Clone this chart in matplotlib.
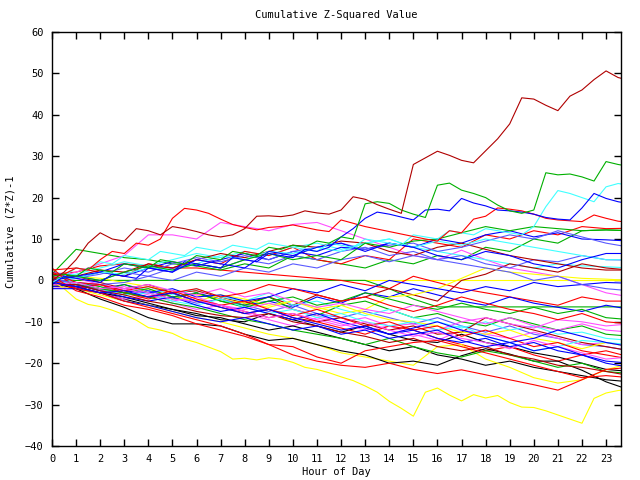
import numpy as np
import matplotlib
matplotlib.use("Agg")
import matplotlib.pyplot as plt

# ── Data: cumulative (Z*Z)-1 per series ─────────────────────────────────────
# half-hour grid (49 values, 0..24 h) for the prominent lines
HALF_HOURS = np.arange(49) * 0.5
# hourly grid (25 values, 0..24 h) for the rest
HOURS = np.arange(25)

top_darkred = [0, 2, 5, 9, 11.5, 10, 9.5, 12.5, 12, 11,
               13, 12.5, 11.8, 11, 10.5, 11, 12.5, 15.5, 15.6, 15.4,
               15.8, 16.8, 16.3, 16, 17, 20.2, 19.6, 18.3, 17.2, 16.2,
               28, 29.6, 31.2, 30.2, 29, 28.4, 31.3, 34.2, 37.8, 44.1,
               43.8, 42.3, 41, 44.5, 46, 48.5, 50.6, 49, 48.3]
top_green = [1, 1.5, 1, 3, 2.5, 2, 4, 3.5, 3, 5,
             4.5, 4, 6, 5.5, 5, 7, 6.5, 6, 8, 7.5,
             8.5, 8, 9.5, 9, 10.5, 10, 18.5, 19, 18.6, 17,
             16, 15.2, 23, 23.5, 21.8, 21, 20, 18.2, 16.8, 16.2,
             17, 26, 25.5, 25.7, 25, 24, 28.7, 28, 27.5]
top_cyan = [-0.5, 1, 3, 2.5, 4.5, 4, 6, 5.5, 5, 7,
            6.5, 6, 8, 7.5, 7, 8.5, 8, 7.5, 9, 8.5,
            8, 7.5, 7, 9, 8.5, 8, 10, 9.5, 9, 8.5,
            11, 10.5, 10, 12, 11.5, 11, 12.5, 12, 11.5, 11,
            13, 17.8, 21.7, 21, 20, 19, 22.6, 23.4, 23]
top_blue = [-1, 1, 0.5, 0, -0.5, 1.5, 1, 0.5, 3, 2.5,
            2, 4.5, 4, 3.5, 3, 5.5, 5, 4.5, 6.5, 6,
            5.5, 7.5, 7, 8, 10.5, 12.5, 15, 16.5, 16, 15.3,
            14.6, 17, 17.2, 16.8, 19.8, 18.7, 18, 17, 16.8, 16.5,
            16, 15.2, 14.8, 14.6, 17.5, 21, 19.8, 19, 18.5]
top_red = [1, 1.5, 3, 2.5, 5, 7, 6.5, 9, 8.5, 10,
           15, 17.4, 17, 16.2, 14.8, 13.5, 12.8, 12.2, 12.8, 13,
           13.4, 12.8, 12.2, 11.8, 14.6, 13.8, 13, 12.4, 11.8, 11.2,
           10.6, 10, 9.5, 12, 11.5, 14.8, 15.5, 17.5, 17.2, 16.8,
           16, 15, 14.6, 14.4, 14.2, 15.8, 15, 14.3, 14]
low_yellow = [0, -2, -4.5, -5.8, -6.3, -7.2, -8.3, -9.6, -11.4, -12,
              -12.8, -14.2, -15, -16.1, -17.2, -19, -18.8, -19.2, -18.7, -19,
              -19.8, -21, -21.5, -22.3, -23.3, -24.2, -25.5, -27, -29.2, -30.9,
              -32.8, -27, -26, -27.7, -29.1, -27.6, -28.4, -27.8, -29.5, -30.6,
              -30.7, -31.5, -32.5, -33.5, -34.5, -28.5, -27.2, -26.6, -26.3]

yellow_2 = [-1, -2, -3.5, -5, -6, -7.5, -9, -10, -11.5, -13, -14, -15.5, -17.5,
            -18.5, -19.5, -20.5, -16, -15.5, -19, -21, -23.5, -24.8, -24, -21.6, -20]
yellow_3 = [0.5, 1, 0.5, -0.5, -1.5, -2.5, -3.5, -4.5, -5.5, -6.5, -5, -6.5, -8,
            -7, -4, -3.5, -2, 0.5, 3, 2, 1.5, 1, 0.5, 0.3, 0]
yellow_flat = [0] * 25
green_flat = [0, 0, 0, 0, 0, 0, 0, 0, 0, 0, 0, 0, 0,
              0, -2, -4.5, -6.4, -6.4, -6.4, -6.4, -6.4, -6.4, -6.4, -6.4, -6.4]
black_1 = [-0.5, -2, -4.5, -6.5, -9, -10.5, -10.5, -11, -13, -14.5, -14, -15.5, -17,
           -18, -20, -19.5, -20.5, -18.2, -16.5, -17.8, -19.5, -19.5, -21.7, -24.5, -26.5]
black_2 = [-1.5, -1.5, -3, -4.5, -6, -7, -8, -9.5, -10, -8, -9.5, -11, -12.5,
           -11, -13, -14.5, -15, -13, -15, -16, -17.5, -18.5, -20, -21.5, -22]
red_low1 = [1, -2.5, -4, -6, -7, -8.5, -10.5, -12, -13.5, -15.5, -18, -19.5, -20.5,
            -21, -20, -21.5, -22.5, -21.6, -22.8, -24, -25.2, -26.5, -24, -21.5, -21]
red_low2 = [0, -2, -3, -5, -6.5, -8, -9.5, -11, -13, -15.5, -16, -18.5, -20,
            -17, -16, -15, -14.5, -16, -17.5, -19, -20.5, -22, -23.5, -23, -23.5]
magenta_1 = [0.5, 2, 4, 6, 11, 11, 10, 14, 13, 12, 13.5, 14, 12,
             10, 8, 6, 5, 7.3, 5, 3, 2, 1, -1, -3, -4]
blue_1 = [-0.5, -1, -2, -1, -2.5, -4, -3, -4.5, -6, -5, -6.5, -4, -5.5,
          -3, -4, -2, -3.5, -5, -6, -4, -5.5, -6.5, -7.5, -6, -7]
red_1 = [2.5, 3, 2, 1, 4, 3, 5, 4, 7, 6, 8, 5, 4,
         6, 5, 10, 9, 8, 11, 10, 12, 11, 13, 12.5, 12.6]
green_1 = [-1, -1, -2.5, -1, -3, -4.5, -3, -5, -6, -4, -7, -8.5, -6,
           -5, -7, -9, -8, -10, -11, -9, -10.5, -12, -11, -13, -13.5]
magenta_2 = [-2, -1.5, -3, -4.5, -4, -5.5, -7, -6, -8, -9.5, -11, -9, -10.5,
             -12, -11, -13, -14.5, -12, -13, -14, -12.5, -14, -15.5, -15, -16]
cyan_1 = [1.5, -0.5, -2, -3, -1.5, -3.5, -2, -4, -5, -3, -6, -5, -7,
          -8.5, -7, -9, -10, -11.5, -10, -12, -11, -13, -12.5, -14, -14.5]
darkred_1 = [-1, 1, -0.5, -2, -1, -3, -2.5, -4, -5.5, -4, -6, -3.5, -5,
             -4, -2, -3.5, -5, 0, 1.5, 4, 3, 2, 4, 3, 2.5]
lavender_1 = [-1, -1, -2, -3.5, -2.5, -4, -5.5, -4.5, -6, -7.5, -6, -8, -9,
              -7.5, -9, -10.5, -9, -11, -12.5, -11, -13, -14, -15.5, -16, -17]
blue_2 = [0.5, 0.5, 2, 1, 3, 4.5, 3.5, 5, 6.5, 5, 7, 6, 8,
          7.5, 9, 8, 10, 9, 11, 12, 10.5, 11.5, 10, 9.8, 9.5]
red_2 = [-1.5, -1, -2, -3, -4.5, -3, -5, -6, -7.5, -9, -8, -10, -11.5,
         -13, -11, -12, -14, -15.5, -17, -16, -18, -19.5, -18, -17, -18.5]
green_2 = [1.5, 7.5, 6.5, 5.5, 5, 4, 3.5, 2.5, 4, 3, 6, 5, 4,
           3, 5, 4, 6, 5, 8, 7, 10, 9, 12, 12.2, 12]
blue_3 = [-1, -1.5, -1, -2.5, -3, -2, -4, -3.5, -5, -4, -2, -3, -1,
          -2.5, 0, -1, -2, -3, -1.5, -2.5, -0.5, -1.5, -1, -0.5, -0.7]
magenta_3 = [0, -1, -2.5, -2, -3.5, -5, -4, -6, -7, -5.5, -7, -8.5, -10,
             -9, -11, -10.5, -12, -10, -9, -10.5, -11.5, -9.5, -10, -11, -10.5]
cyan_2 = [1, 1.5, 3, 4.5, 3.5, 5, 6.5, 5.5, 7, 6, 8, 9, 7.5,
          9, 10, 8, 7, 6, 5, 4, 3, 4, 3.5, 3.3, 3]
yellow_4 = [-0.5, -1, -2, -3, -2, -4, -5, -3.5, -4.5, -6, -5, -7, -6,
            -8, -9.5, -10, -11, -12.5, -13, -12, -14, -15, -16.5, -15, -16]
black_3 = [0, -1.5, -3, -4, -5.5, -7, -8.5, -9, -10.5, -12, -11, -12.5, -14,
           -15.5, -17, -16, -18, -19, -20.5, -19.5, -21, -22, -23, -24, -24.5]
lavender_2 = [2, 1, 0, 2, 1, 3, 4, 3, 5, 4, 6, 5, 7,
              8, 6, 7, 5, 6, 4, 3, 5, 4.5, 6, 5, 4.9]
red_3 = [3, -2, -1, -3, -4, -2.5, -4.5, -6, -5, -7, -8.5, -7, -9,
         -11, -10, -12, -11, -13.5, -12, -14, -16, -15, -17, -18, -19]
green_3 = [-0.5, -0.5, -1.5, -3, -2, -4, -3, -5, -6.5, -5, -4, -6, -5,
           -3, -4.5, -6, -7, -5.5, -7, -8, -6.5, -8, -7, -9, -9.5]
blue_4 = [-1.5, -1, -2.5, -4, -5, -4, -6, -7.5, -6.5, -8, -9.5, -8, -10,
          -11.5, -13, -12, -14, -15, -14, -16, -15, -17, -18, -19.5, -20]
magenta_4 = [1, 0.5, -1, -2, -1, -2.5, -3.5, -2, -4, -3, -5, -6.5, -5.5,
             -7, -8, -6, -7.5, -9, -10.5, -9, -11, -12, -10.5, -12, -12.5]
cyan_3 = [0, -1, -2, -3.5, -3, -5, -6, -4.5, -6.5, -8, -7, -9, -8,
          -10, -11, -10, -12, -11, -13.5, -15, -17, -16, -14.5, -15, -15.5]
darkred_2 = [0.5, -1, -2, -3, -4, -3, -5, -6.5, -8, -7, -9, -10, -9,
             -10.5, -12, -11, -13, -12.5, -9, -10.5, -12, -13.5, -15, -16, -17]
lavender_3 = [-0.5, 0.5, 1.5, 3, 2, 4, 5.5, 4.5, 6, 5, 7, 8, 9,
              7.5, 8.5, 9, 7, 8, 9.5, 11, 10, 12, 10.5, 9, 8]
blue_5 = [0, 1, 2, 4, 3, 2, 5, 4, 3, 7, 6, 8, 9,
          7, 9, 8, 6, 5, 7, 6, 4, 3, 5, 6.5, 6.5]
red_4 = [2, -0.5, -1, -2.5, -1.5, -3, -2, -4, -3, -1, -2, -3.5, -5,
         -4, -6, -7.5, -6, -4, -5.5, -7, -8, -9.5, -8, -10, -10.5]
green_4 = [-1, -1, -2, -3, -4, -5.5, -6.5, -8, -9.5, -10.5, -12, -13, -14,
           -15.5, -14, -16, -17.5, -18.5, -17, -18, -19.5, -21, -20, -22, -22.5]
cyan_4 = [0.5, 0.5, 2, 1.5, 3, 2.5, 4, 6, 5, 7, 6.5, 8, 7,
          9, 10, 8, 9.5, 8.5, 10, 9, 8, 7, 6, 5, 5]
magenta_5 = [-1, -0.5, -2, -1.5, -3, -4.5, -5, -6, -7.5, -9, -8, -9.5, -11,
             -10, -12, -13.5, -12.5, -14, -15, -16.5, -14.5, -16, -17.5, -19, -18.5]
blue_6 = [-2, -2, -3, -5, -6, -7.5, -9, -10, -9, -10.5, -12, -11, -13,
          -12, -14, -13, -12, -14.5, -16, -15, -17, -16, -18, -20, -21]
darkred_3 = [1.5, 1, 2.5, 2, 4, 3, 5, 6.5, 5.5, 7, 8.5, 8, 9.5,
             9, 7, 6, 8, 9, 7.5, 6, 5, 4, 3, 2.5, 2.5]
red_5 = [1.5, 2, 3.5, 4, 3.5, 3, 3, 2.5, 2, 1.5, 1, 0.5, 0,
         -1, -2, 1, -0.5, -2, -3, -4, -5, -6, -4, -5, -5]
blue_7 = [-0.5, -1.5, -3, -2.5, -4, -3, -5, -6.5, -8, -7, -9, -10.5, -12,
          -11, -13, -11.5, -10, -12, -13.5, -15, -14, -12, -13.5, -15, -16]
lavender_4 = [0, -0.5, -1, -0.5, 1, 0, 2, 1, 3, 2, 4, 3, 5,
              6, 4.5, 6, 5, 4, 3, 2, 0, 1, -1, -2, -2.5]
green_5 = [0.5, 1, 0, 2, 3.5, 2.5, 4, 3, 5, 6.5, 5, 6, 5,
           9, 8, 9.5, 10, 11.5, 13, 12, 13, 12.5, 12, 12.2, 12]
darkred_4 = [-1, -1, -2.5, -3.5, -5, -6, -7.5, -8.5, -9, -8, -10, -11, -12.5,
             -13.5, -15, -14, -16, -17, -16, -18, -19, -20.5, -21, -22, -23]

# ── Styling (old gnuplot png palette) ───────────────────────────────────────
RED, GREEN, BLUE = "#ff0000", "#00b000", "#0000ff"
MAGENTA, CYAN, DARKRED = "#ff50ff", "#40ffff", "#b00000"
YELLOW, BLACK, LAVENDER = "#ffff00", "#000000", "#5a5aff"

SERIES = [
    (yellow_flat, YELLOW), (green_flat, GREEN),
    (red_5, RED), (green_2, GREEN), (blue_1, BLUE), (magenta_1, MAGENTA),
    (cyan_2, CYAN), (darkred_1, DARKRED), (yellow_3, YELLOW), (black_2, BLACK),
    (lavender_1, LAVENDER), (red_1, RED), (green_1, GREEN), (blue_2, BLUE),
    (magenta_2, MAGENTA), (cyan_1, CYAN), (darkred_2, DARKRED), (yellow_4, YELLOW),
    (black_3, BLACK), (lavender_2, LAVENDER), (red_2, RED), (green_3, GREEN),
    (blue_3, BLUE), (magenta_3, MAGENTA), (cyan_3, CYAN), (darkred_3, DARKRED),
    (yellow_2, YELLOW), (black_1, BLACK), (lavender_3, LAVENDER), (red_3, RED),
    (green_4, GREEN), (blue_4, BLUE), (magenta_4, MAGENTA), (cyan_4, CYAN),
    (darkred_4, DARKRED), (low_yellow, YELLOW), (lavender_4, LAVENDER),
    (red_4, RED), (green_5, GREEN), (blue_5, BLUE), (magenta_5, MAGENTA),
    (red_low1, RED), (blue_6, BLUE), (red_low2, RED), (blue_7, BLUE),
    (top_cyan, CYAN), (top_red, RED), (top_blue, BLUE), (top_green, GREEN),
    (top_darkred, DARKRED),
]

FONT = "DejaVu Sans Mono"
FS = 7.5

fig = plt.figure(figsize=(6.4, 4.8), dpi=100)
ax = fig.add_axes([52 / 640, 1 - 446 / 480, 569 / 640, 414 / 480])

for values, color in SERIES:
    xs = HALF_HOURS if len(values) == len(HALF_HOURS) else HOURS
    ax.plot(xs, values, color=color, linewidth=0.8, antialiased=True)

ax.set_xlim(0, 23.62)
ax.set_ylim(-40, 60)
ax.set_xticks(range(24))
ax.set_yticks(range(-40, 61, 10))
ax.tick_params(direction="in", top=True, right=True, length=5, width=1,
               labelsize=FS, pad=6)
for lab in ax.get_xticklabels() + ax.get_yticklabels():
    lab.set_family(FONT)
for sp in ax.spines.values():
    sp.set_linewidth(1)

fig.text(336 / 640, 1 - 15 / 480, "Cumulative Z-Squared Value",
         ha="center", va="center", family=FONT, fontsize=FS)
fig.text(336 / 640, 1 - 472 / 480, "Hour of Day",
         ha="center", va="center", family=FONT, fontsize=FS)
fig.text(11 / 640, 1 - 232 / 480, "Cumulative (Z*Z)-1", rotation=90,
         ha="center", va="center", family=FONT, fontsize=FS)

fig.savefig("out.png", dpi=100)
